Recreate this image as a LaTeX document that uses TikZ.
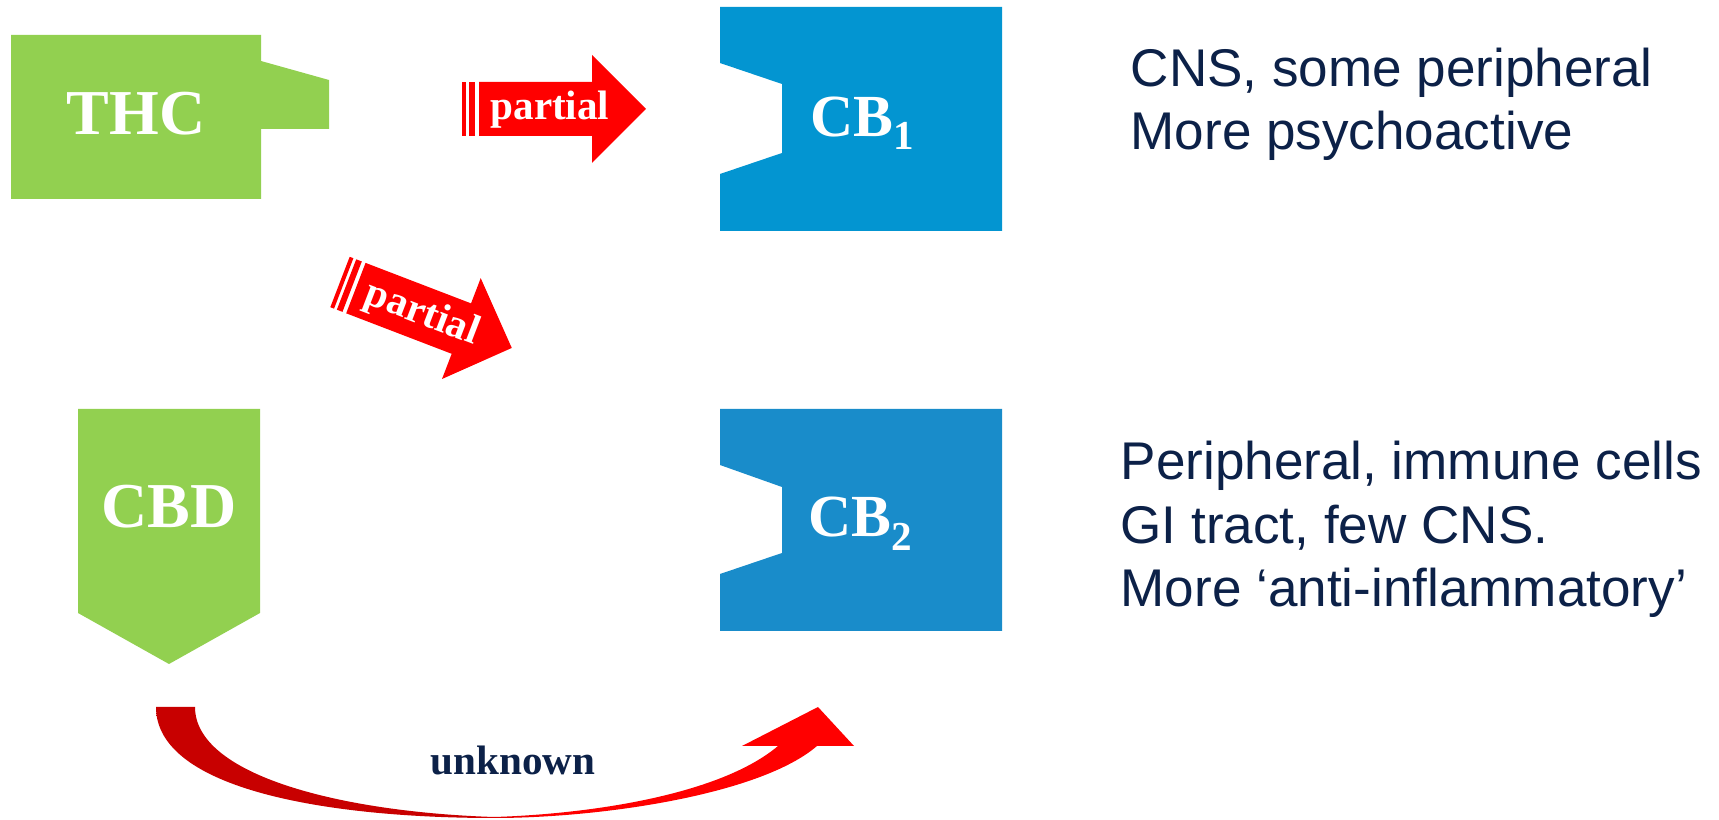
\documentclass[tikz,border=0pt]{standalone}
\usepackage{fontspec}
\setmainfont{Liberation Serif}
\newfontfamily\descfont{Liberation Sans}
\definecolor{ligandgreen}{RGB}{146,208,80}
\definecolor{cbonecolor}{RGB}{3,149,209}
\definecolor{cbtwocolor}{RGB}{25,140,202}
\definecolor{arrowred}{RGB}{255,0,0}
\definecolor{arcdark}{RGB}{200,0,0}
\definecolor{navytext}{RGB}{12,33,72}
\pgfdeclarehorizontalshading{arcshade}{100bp}{color(0bp)=(arcdark); color(47bp)=(arcdark); color(53bp)=(arrowred); color(100bp)=(arrowred)}
\newcommand{\lowsub}[1]{\raisebox{-3.7pt}{\fontsize{11.7}{12}\selectfont #1}}
\tikzstyle{boxlabel}=[text=white, inner sep=0pt, font=\bfseries\fontsize{18.2}{22}\selectfont]
\tikzstyle{cblabel}=[text=white, inner sep=0pt, font=\bfseries\fontsize{17}{20}\selectfont]
\tikzstyle{arrowlabel}=[text=white, inner sep=0pt, font=\bfseries\fontsize{11.7}{14}\selectfont]
\tikzstyle{desc}=[text=navytext, inner sep=0pt, align=left, font=\descfont\fontsize{15.1}{18.07}\selectfont]
\begin{document}
\begin{tikzpicture}
	\useasboundingbox (0,0) rectangle (17.19,-8.20);
	\begin{scope}
		% ligands
		\fill[ligandgreen] (0.11,-0.35) -- (2.61,-0.35) -- (2.61,-0.61) -- (3.29,-0.80) -- (3.29,-1.29) -- (2.61,-1.29) -- (2.61,-1.99) -- (0.11,-1.99) -- cycle;
		\node (thc) at (1.36,-1.35) [boxlabel, anchor=base] {THC};

		\fill[ligandgreen] (0.78,-4.09) -- (2.60,-4.09) -- (2.60,-6.13) -- (1.69,-6.64) -- (0.78,-6.13) -- cycle;
		\node (cbd) at (1.69,-5.28) [boxlabel, anchor=base] {CBD};

		% receptors
		\fill[cbonecolor] (7.20,-0.07) -- (10.02,-0.07) -- (10.02,-2.31) -- (7.20,-2.31) -- (7.20,-1.74) -- (7.82,-1.53) -- (7.82,-0.84) -- (7.20,-0.63) -- cycle;
		\node (cbone) at (8.10,-1.37) [cblabel, anchor=base west] {CB\lowsub{1}};

		\fill[cbtwocolor] (7.20,-4.09) -- (10.02,-4.09) -- (10.02,-6.31) -- (7.20,-6.31) -- (7.20,-5.74) -- (7.82,-5.53) -- (7.82,-4.87) -- (7.20,-4.65) -- cycle;
		\node (cbtwo) at (8.08,-5.37) [cblabel, anchor=base west] {CB\lowsub{2}};

		% base = last line
		\node (cbonetext) at (11.30,-1.50) [desc, anchor=base west] {CNS, some peripheral\\More psychoactive};
		\node (cbtwotext) at (11.20,-6.07) [desc, anchor=base west] {Peripheral, immune cells\\GI tract, few CNS.\\More ‘anti-inflammatory’};
	\end{scope}
	\begin{scope}[shift={(4.62,-1.09)}, transform shape]
		\fill[arrowred] (0,-0.27) rectangle (0.04,0.27);
		\fill[arrowred] (0.07,-0.27) rectangle (0.13,0.27);
		\fill[arrowred] (0.17,-0.27) -- (1.30,-0.27) -- (1.30,-0.54) -- (1.84,0) -- (1.30,0.54) -- (1.30,0.27) -- (0.17,0.27) -- cycle;
		\node (partialone) at (0.88,-0.11) [arrowlabel, anchor=base] {partial};
	\end{scope}
	\begin{scope}[shift={(3.40,-2.82)}, rotate=-21, transform shape]
		\fill[arrowred] (0,-0.27) rectangle (0.04,0.27);
		\fill[arrowred] (0.07,-0.27) rectangle (0.13,0.27);
		\fill[arrowred] (0.17,-0.27) -- (1.30,-0.27) -- (1.30,-0.54) -- (1.84,0) -- (1.30,0.54) -- (1.30,0.27) -- (0.17,0.27) -- cycle;
		\node (partialtwo) at (0.88,-0.11) [arrowlabel, anchor=base] {partial};
	\end{scope}
	\begin{scope}
		% curved arrow
		\shade[shading=arcshade] (1.56,-7.07) .. controls (1.56,-7.90) and (3.30,-8.18) .. (4.94,-8.18) .. controls (6.00,-8.18) and (7.60,-7.95) .. (8.17,-7.46) -- (8.54,-7.46) -- (8.18,-7.07) -- (7.42,-7.46) -- (7.78,-7.46) .. controls (7.20,-7.95) and (5.90,-8.14) .. (4.94,-8.17) .. controls (3.40,-8.12) and (1.95,-7.75) .. (1.95,-7.07) -- cycle;
		\node (unknown) at (5.13,-7.75) [arrowlabel, text=navytext, anchor=base] {unknown};
	\end{scope}
\end{tikzpicture}
\end{document}
